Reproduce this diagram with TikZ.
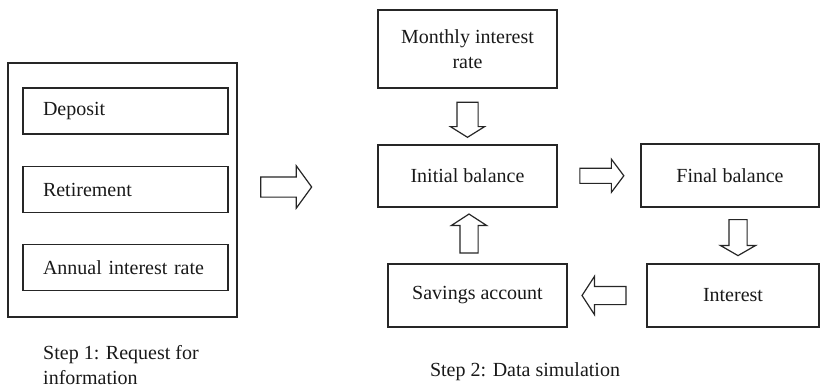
\documentclass[tikz,border=0pt]{standalone}
\usepackage{fontspec}
\setmainfont{Liberation Serif}
\usetikzlibrary{shapes.arrows,calc}
\begin{document}
\begin{tikzpicture}[x=1pt,y=-1pt,
  every node/.style={font=\fontsize{20}{25}\selectfont, text=black!90},
  frame/.style={draw=black!85, line width=1.3pt, rectangle, inner sep=0pt},
  leftbox/.style={frame, minimum height=46pt, text width=165pt, inner xsep=20pt, align=left},
  flowbox/.style={frame, align=center},
  blockarrow/.style n args={5}{draw=black!85, line width=1.2pt, fill=white, single arrow,
     inner xsep=0pt, inner ysep=#1/2, single arrow head extend=#2/2-#1/2,
     minimum height=#3, single arrow tip angle=#4, rotate=#5},
  caption/.style={inner sep=0pt}
]
\useasboundingbox (0,0) rectangle (820,388);

% Step 1
\node[frame, minimum width=229pt, minimum height=254pt] (outer) at (122.5,190) {};
\node[leftbox] (dep) at (125.5,111) {Deposit};
\node[leftbox] (ret) at (125.5,189.5) {Retirement};
\node[leftbox] (air) at (125.5,267.5) {Annual interest rate};
\node[caption, anchor=north west, align=left] (cap1) at (43,345) {Step 1: Request for\\information};

% Step 2
\node[flowbox, minimum width=179pt, minimum height=78pt] (mir) at (467.5,49) {Monthly interest\\rate};
\node[flowbox, minimum width=179pt, minimum height=62pt] (ib) at (467.5,176) {Initial balance};
\node[flowbox, minimum width=178pt, minimum height=63pt] (fb) at (730,175.5) {Final balance};
\node[flowbox, minimum width=179pt, minimum height=63pt] (sa) at (477.5,295.5) {Savings account};
\node[flowbox, minimum width=172pt, minimum height=63pt] (int) at (733,295.5) {Interest};
\node[caption] (cap2) at (525,372) {Step 2: Data simulation};

% block arrows
\node[blockarrow={19pt}{41pt}{51pt}{108}{0}] (a0) at (282.5,187) {};
\node[blockarrow={20pt}{33pt}{35pt}{116}{-90}] (a1) at ($(mir.south)!0.5!(ib.north)$) {};
\node[blockarrow={14pt}{32pt}{44pt}{106}{0}] (a2) at ($(ib.east)!0.5!(fb.west)$) {};
\node[blockarrow={17pt}{34pt}{36pt}{120}{-90}] (a3) at (738,235) {};
\node[blockarrow={17pt}{37pt}{44pt}{114}{180}] (a4) at ($(sa.east)!0.5!(int.west)$) {};
\node[blockarrow={17pt}{34pt}{39pt}{114}{90}] (a5) at (469,236.5) {};
\end{tikzpicture}
\end{document}
